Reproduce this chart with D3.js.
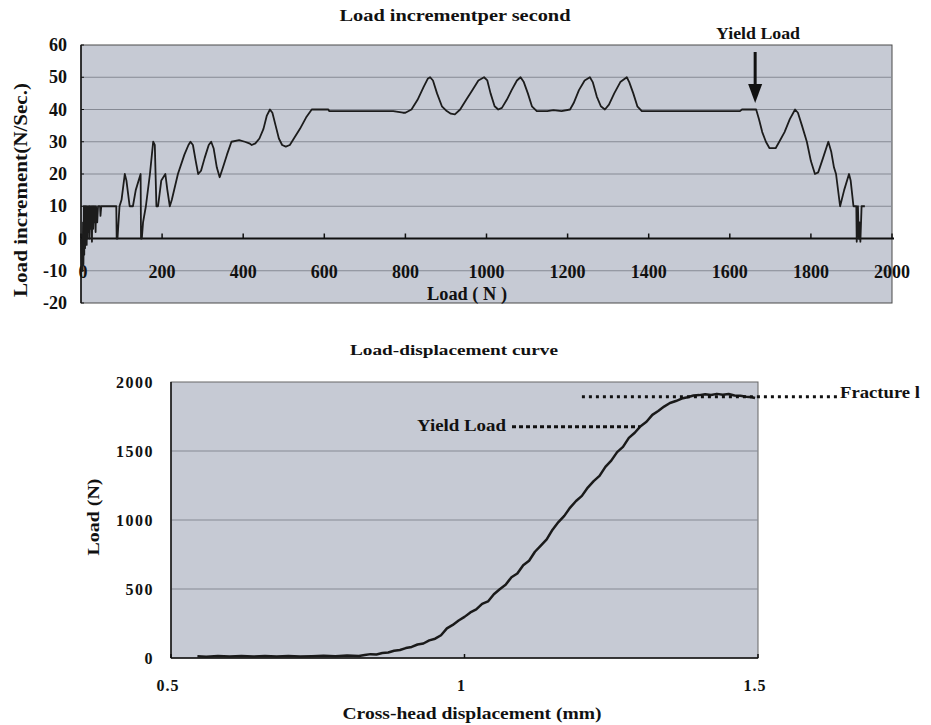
<!DOCTYPE html>
<html>
<head>
<meta charset="utf-8">
<script src="https://cdn.jsdelivr.net/npm/d3@7/dist/d3.min.js"></script>
<style>
  html, body { margin: 0; padding: 0; background: #ffffff; }
  svg { display: block; }
  text { font-family: "Liberation Serif", "Times New Roman", serif; font-weight: bold; fill: #111; }
</style>
</head>
<body>
<svg id="chart" width="931" height="725"></svg>
<script>
// ---- Load increment per second vs. load ----
const rateLoad = [0, 2, 3, 4, 5, 6, 7, 8, 9, 10, 11, 12, 13, 14, 15, 16, 17, 18, 20, 21, 22, 24, 25, 27, 28, 30, 31, 33, 34, 36, 37, 40, 42,
  47, 48, 50, 60, 70, 80, 87, 88, 90, 95, 100, 108, 112, 120, 128, 135, 147, 148, 150, 153, 160, 170, 178, 182, 186, 190,
  198, 208, 213, 219, 224, 239, 255, 265, 270, 276, 283, 289, 296, 305, 315, 321, 327, 335, 342, 350, 360, 371, 390, 404,
  415, 421, 430, 440, 450, 458, 466, 472, 480, 488, 496, 505, 515, 525, 540, 555, 569, 610, 612, 660, 720, 770,
  794, 800, 815, 830, 845, 855, 861, 868, 878, 890, 902, 912, 922, 935, 950, 965, 980, 994, 1002, 1010, 1020, 1029,
  1038, 1050, 1062, 1075, 1084, 1092, 1102, 1112, 1124, 1150, 1165, 1185, 1206, 1215, 1228, 1242, 1255, 1262, 1272,
  1282, 1292, 1302, 1315, 1330, 1346, 1352, 1362, 1372, 1383, 1395, 1450, 1520, 1580, 1625, 1630,
  1665, 1672, 1680, 1689, 1698, 1713, 1722, 1735, 1748, 1761, 1768, 1778, 1790, 1800, 1810, 1818, 1830, 1843, 1850,
  1857, 1862, 1872, 1882, 1894, 1898, 1905, 1912, 1913, 1916, 1918, 1920, 1922, 1925, 1930, 1933];
const rateValue = [0, -10, -2, -10, 5, -8, 10, -5, 10, -3, 10, 0, 10, -2, 8, 0, 10, 2, 10, 0, 10, 3, 10, -1, 10, 3, 10, 5, 10, 2, 10, 5, 10,
  10, 7, 10, 10, 10, 10, 10, 0, 0, 10, 12, 20, 18, 10, 10, 15, 20, 0, 0, 5, 10, 20, 30, 29, 10, 10,
  18, 20, 15, 10, 12, 20, 26, 29, 30, 29, 24, 20, 21, 25, 29, 30, 28, 22, 19, 22, 26, 30, 30.5, 30,
  29.5, 29, 29.5, 31, 34, 38, 40, 39, 35, 31, 29, 28.5, 29, 31, 34, 37.5, 40, 40, 39.5, 39.5, 39.5, 39.5,
  39, 39, 40, 43, 47, 49.5, 50, 49, 45, 41, 39.5, 38.7, 38.5, 40, 43, 46, 49, 50, 49, 45, 41, 40,
  40.5, 43, 46, 49, 50, 48.5, 45, 41, 39.5, 39.5, 39.8, 39.5, 40, 42, 46, 49, 50, 48.5, 44,
  41, 40, 41.5, 45, 48.5, 50, 48.5, 45, 41, 39.5, 39.5, 39.5, 39.5, 39.5, 39.5, 40,
  40, 37, 33, 30, 28, 28, 30, 33, 37, 40, 39, 35, 30, 24, 20, 20.5, 25, 30, 27,
  22, 20, 10, 15, 20, 18, 10, 10, -1, 10, 0, 5, -1, 10, 10, 10];
const rateXTicks = [0, 200, 400, 600, 800, 1000, 1200, 1400, 1600, 1800, 2000];
const rateYTicks = [-20, -10, 0, 10, 20, 30, 40, 50, 60];
const yieldLoadN = 1665;

// ---- Load-displacement curve ----
const displacement = [0.545, 0.56, 0.58, 0.60, 0.62, 0.64, 0.66, 0.68, 0.70, 0.72, 0.74, 0.76, 0.78, 0.80, 0.82,
  0.83, 0.84, 0.85, 0.86, 0.87, 0.88, 0.89, 0.90, 0.91, 0.92, 0.93, 0.94, 0.95, 0.96, 0.97, 0.98, 0.99,
  1.00, 1.01, 1.02, 1.03, 1.04, 1.05, 1.06, 1.07, 1.08, 1.09, 1.10, 1.11, 1.12, 1.13, 1.14, 1.15, 1.16, 1.17,
  1.18, 1.19, 1.20, 1.21, 1.22, 1.23, 1.24, 1.25, 1.26, 1.27, 1.28, 1.29, 1.30, 1.31, 1.32, 1.33, 1.34,
  1.35, 1.36, 1.37, 1.38, 1.39, 1.40, 1.41, 1.42, 1.43, 1.44, 1.45, 1.46, 1.47, 1.48, 1.49, 1.495];
const loadN = [12, 9, 14, 11, 15, 11, 14, 10, 14, 11, 13, 16, 13, 18, 15,
  22, 28, 26, 36, 40, 52, 58, 72, 80, 98, 105, 128, 140, 165, 215, 240, 272,
  298, 330, 352, 392, 410, 462, 498, 530, 585, 612, 672, 705, 770, 815, 860, 930, 985, 1030,
  1090, 1138, 1175, 1235, 1282, 1320, 1385, 1430, 1492, 1530, 1595, 1632, 1680, 1712, 1762, 1790, 1822,
  1848, 1862, 1880, 1890, 1902, 1905, 1912, 1906, 1914, 1908, 1913, 1902, 1900, 1893, 1890, 1884];
const dispXTicks = [0.5, 1, 1.5];
const dispYTicks = [0, 500, 1000, 1500, 2000];
const yieldLoad = 1676, yieldDisp = 1.299;
const fractureLoad = 1893, fractureFrom = 1.2, fractureTo = 1.636;

const svg = d3.select("#chart");
const plotFill = "#c6cad4";
const gridColor = "#868a94";

// ================= upper chart =================
const x1 = d3.scaleLinear().domain([0, 2000]).range([81, 892]);
const y1 = d3.scaleLinear().domain([-20, 60]).range([303, 45]);
const topG = svg.append("g");

topG.append("rect")
  .attr("x", x1(0)).attr("y", y1(60))
  .attr("width", x1(2000) - x1(0)).attr("height", y1(-20) - y1(60))
  .attr("fill", plotFill).attr("stroke", "#4a4a4a").attr("stroke-width", 1);

topG.selectAll("line.grid").data(rateYTicks.filter(v => v !== 0 && v !== 60 && v !== -20)).join("line")
  .attr("class", "grid")
  .attr("x1", x1(0)).attr("x2", x1(2000))
  .attr("y1", d => y1(d)).attr("y2", d => y1(d))
  .attr("stroke", gridColor).attr("stroke-width", 1);

// left axis line with inward tick marks
topG.append("line").attr("x1", x1(0)).attr("x2", x1(0)).attr("y1", y1(60)).attr("y2", y1(-20))
  .attr("stroke", "#111").attr("stroke-width", 1.5);
topG.selectAll("line.ytick").data(rateYTicks).join("line")
  .attr("class", "ytick")
  .attr("x1", x1(0)).attr("x2", x1(0) + 3)
  .attr("y1", d => y1(d)).attr("y2", d => y1(d))
  .attr("stroke", "#111");

// x axis drawn along the zero line, ticks pointing up
topG.append("line").attr("x1", x1(0)).attr("x2", x1(2000) + 2).attr("y1", y1(0)).attr("y2", y1(0))
  .attr("stroke", "#111").attr("stroke-width", 2);
topG.selectAll("line.xtick").data(rateXTicks).join("line")
  .attr("class", "xtick")
  .attr("x1", d => x1(d)).attr("x2", d => x1(d))
  .attr("y1", y1(0)).attr("y2", y1(0) - 5)
  .attr("stroke", "#111").attr("stroke-width", 1.5);

topG.selectAll("text.ylab").data(rateYTicks).join("text")
  .attr("class", "ylab")
  .attr("x", 67).attr("y", d => y1(d) + 6)
  .attr("text-anchor", "end").attr("font-size", 18)
  .text(d => d);

topG.selectAll("text.xlab").data(rateXTicks).join("text")
  .attr("class", "xlab")
  .attr("x", d => x1(d) + (d === 0 ? 2 : 0)).attr("y", 278)
  .attr("text-anchor", "middle").attr("font-size", 18)
  .text(d => d);

const rateLine = d3.line().x((d, i) => x1(rateLoad[i])).y((d, i) => y1(rateValue[i]));
topG.append("path").datum(rateValue)
  .attr("d", rateLine)
  .attr("fill", "none").attr("stroke", "#1c1c1c").attr("stroke-width", 1.8)
  .attr("stroke-linejoin", "round");

topG.append("text").attr("x", 455).attr("y", 21).attr("text-anchor", "middle")
  .attr("font-size", 17).attr("textLength", 231).attr("lengthAdjust", "spacingAndGlyphs")
  .text("Load incrementper second");

topG.append("text").attr("x", 467).attr("y", 300).attr("text-anchor", "middle")
  .attr("font-size", 18).attr("textLength", 80).attr("lengthAdjust", "spacingAndGlyphs")
  .text("Load ( N )");

topG.append("text").attr("transform", "translate(27,190) rotate(-90)").attr("text-anchor", "middle")
  .attr("font-size", 19).attr("textLength", 214).attr("lengthAdjust", "spacingAndGlyphs")
  .text("Load increment(N/Sec.)");

// yield marker: label and downward arrow
topG.append("text").attr("x", 758).attr("y", 39).attr("text-anchor", "middle")
  .attr("font-size", 16).attr("textLength", 84).attr("lengthAdjust", "spacingAndGlyphs")
  .text("Yield Load");
const ax = x1(yieldLoadN) - 1;
topG.append("line").attr("x1", ax).attr("x2", ax).attr("y1", 52).attr("y2", 88)
  .attr("stroke", "#111").attr("stroke-width", 3);
topG.append("path")
  .attr("d", `M${ax - 7},84 L${ax + 7},84 L${ax},103 Z`)
  .attr("fill", "#111");

// ================= lower chart =================
const x2 = d3.scaleLinear().domain([0.5, 1.5]).range([171, 758]);
const y2 = d3.scaleLinear().domain([0, 2000]).range([658, 382]);
const botG = svg.append("g");

botG.append("rect")
  .attr("x", x2(0.5)).attr("y", y2(2000))
  .attr("width", x2(1.5) - x2(0.5)).attr("height", y2(0) - y2(2000))
  .attr("fill", plotFill).attr("stroke", "#666").attr("stroke-width", 1);

botG.selectAll("line.grid").data(dispYTicks.filter(v => v > 0 && v < 2000)).join("line")
  .attr("class", "grid")
  .attr("x1", x2(0.5)).attr("x2", x2(1.5))
  .attr("y1", d => y2(d)).attr("y2", d => y2(d))
  .attr("stroke", gridColor).attr("stroke-width", 1);

botG.append("line").attr("x1", x2(0.5)).attr("x2", x2(0.5)).attr("y1", y2(2000)).attr("y2", y2(0))
  .attr("stroke", "#111").attr("stroke-width", 1.5);
botG.append("line").attr("x1", x2(0.5)).attr("x2", x2(1.5)).attr("y1", y2(0)).attr("y2", y2(0))
  .attr("stroke", "#111").attr("stroke-width", 1.5);
botG.selectAll("line.xtick").data(dispXTicks).join("line")
  .attr("class", "xtick")
  .attr("x1", d => x2(d)).attr("x2", d => x2(d))
  .attr("y1", y2(0)).attr("y2", y2(0) - 4)
  .attr("stroke", "#111").attr("stroke-width", 1.5);

botG.selectAll("text.ylab").data(dispYTicks).join("text")
  .attr("class", "ylab")
  .attr("x", 154).attr("y", d => y2(d) + 6)
  .attr("text-anchor", "end").attr("font-size", 16).attr("letter-spacing", 1.5)
  .text(d => d);

botG.selectAll("text.xlab").data(dispXTicks).join("text")
  .attr("class", "xlab")
  .attr("x", d => x2(d) - 3).attr("y", 691)
  .attr("text-anchor", "middle").attr("font-size", 16).attr("letter-spacing", 1)
  .text(d => d);

const curve = d3.line().x((d, i) => x2(displacement[i])).y((d, i) => y2(loadN[i]));
botG.append("path").datum(loadN)
  .attr("d", curve)
  .attr("fill", "none").attr("stroke", "#1a1a1a").attr("stroke-width", 2.5)
  .attr("stroke-linejoin", "round");

botG.append("text").attr("x", 454).attr("y", 355).attr("text-anchor", "middle")
  .attr("font-size", 15).attr("textLength", 208).attr("lengthAdjust", "spacingAndGlyphs")
  .text("Load-displacement curve");

botG.append("text").attr("x", 472).attr("y", 719).attr("text-anchor", "middle")
  .attr("font-size", 16).attr("textLength", 259).attr("lengthAdjust", "spacingAndGlyphs")
  .text("Cross-head displacement (mm)");

botG.append("text").attr("transform", "translate(99,517) rotate(-90)").attr("text-anchor", "middle")
  .attr("font-size", 17).attr("textLength", 77).attr("lengthAdjust", "spacingAndGlyphs")
  .text("Load (N)");

// yield and fracture reference lines
botG.append("text").attr("x", 417).attr("y", 431)
  .attr("font-size", 16).attr("textLength", 89).attr("lengthAdjust", "spacingAndGlyphs")
  .text("Yield Load");
botG.append("line")
  .attr("x1", 512).attr("x2", x2(yieldDisp))
  .attr("y1", y2(yieldLoad)).attr("y2", y2(yieldLoad))
  .attr("stroke", "#111").attr("stroke-width", 3).attr("stroke-dasharray", "4 3");

botG.append("line")
  .attr("x1", x2(fractureFrom)).attr("x2", x2(fractureTo))
  .attr("y1", y2(fractureLoad)).attr("y2", y2(fractureLoad))
  .attr("stroke", "#111").attr("stroke-width", 3).attr("stroke-dasharray", "3 4");
botG.append("text").attr("x", 840).attr("y", 398)
  .attr("font-size", 16).attr("textLength", 80).attr("lengthAdjust", "spacingAndGlyphs")
  .text("Fracture l");
</script>
</body>
</html>
